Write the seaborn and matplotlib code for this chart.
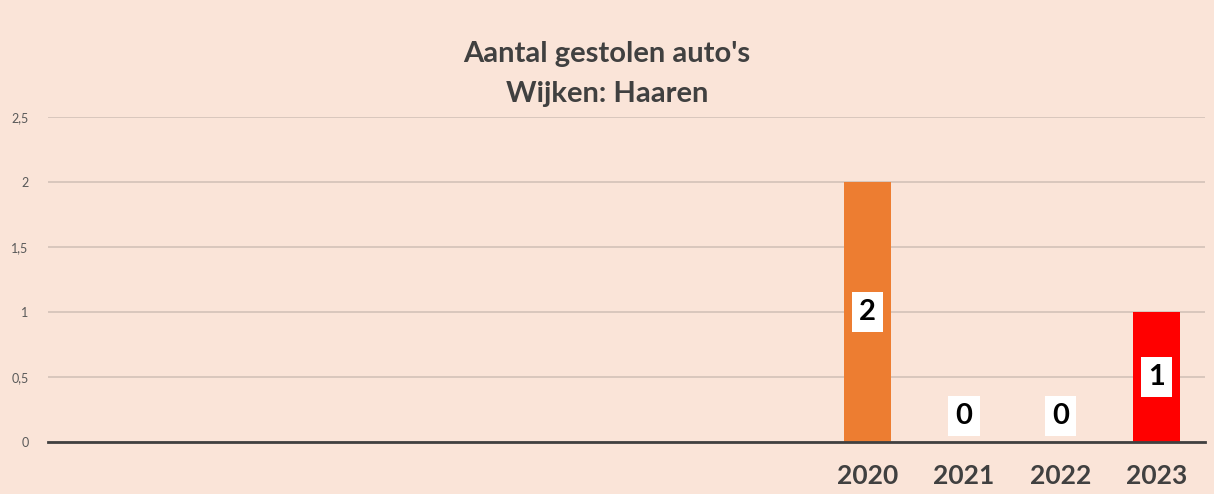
import matplotlib
matplotlib.use("Agg")
import matplotlib.pyplot as plt
import seaborn as sns
import pandas as pd
from matplotlib.ticker import FuncFormatter

# Data
categories = ["c1", "c2", "c3", "c4", "c5", "c6", "c7", "c8", "2020", "2021", "2022", "2023"]
tick_labels = ["", "", "", "", "", "", "", "", "2020", "2021", "2022", "2023"]
values = [0, 0, 0, 0, 0, 0, 0, 0, 2, 0, 0, 1]
shown = [False] * 8 + [True] * 4
bar_colors = ["#ED7D31"] * 11 + ["#FF0000"]

bg = "#FAE4D8"
text_dark = "#404040"

df = pd.DataFrame({"cat": categories, "val": values})

sns.set_theme(style="white")
plt.rcParams["font.family"] = ["Lato", "DejaVu Sans"]

fig = plt.figure(figsize=(12.14, 4.94), dpi=100, facecolor=bg)
ax = fig.add_axes([0.0395, 0.105, 0.953, 0.658])
ax.set_facecolor(bg)

sns.barplot(data=df, x="cat", y="val", hue="cat", palette=bar_colors,
            legend=False, width=0.49, saturation=1, linewidth=0, ax=ax)

ax.set_ylim(0, 2.5)
ax.set_xlim(-0.5, len(categories) - 0.5)
ax.set_yticks([0, 0.5, 1, 1.5, 2, 2.5])
ax.yaxis.set_major_formatter(FuncFormatter(lambda v, p: f"{v:g}".replace(".", ",")))
ax.yaxis.grid(True, color="#D3C2B8", linewidth=1.2)
ax.set_axisbelow(True)
for s in ["top", "right", "left"]:
    ax.spines[s].set_visible(False)
ax.spines["bottom"].set_color(text_dark)
ax.spines["bottom"].set_linewidth(2)

ax.set_xticks(range(len(categories)))
ax.set_xticklabels(tick_labels, fontsize=19, fontweight="bold", color=text_dark)
ax.tick_params(axis="x", length=0, pad=16)
ax.tick_params(axis="y", length=0, labelsize=9, labelcolor="#595959", pad=14)
ax.set_xlabel("")
ax.set_ylabel("")

# value labels in white boxes
for i, (v, s) in enumerate(zip(values, shown)):
    if not s:
        continue
    ypos = max(v / 2, 0.2)
    ax.text(i, ypos, str(v), ha="center", va="center", fontsize=21,
            fontweight="bold", color="black",
            bbox=dict(boxstyle="square,pad=0.25", facecolor="white", edgecolor="none"))

fig.text(0.5, 0.89, "Aantal gestolen auto's", ha="center", va="center",
         fontsize=21, fontweight="bold", color=text_dark)
fig.text(0.5, 0.81, "Wijken: Haaren", ha="center", va="center",
         fontsize=21, fontweight="bold", color=text_dark)

fig.savefig("out.png", dpi=100, facecolor=bg)
